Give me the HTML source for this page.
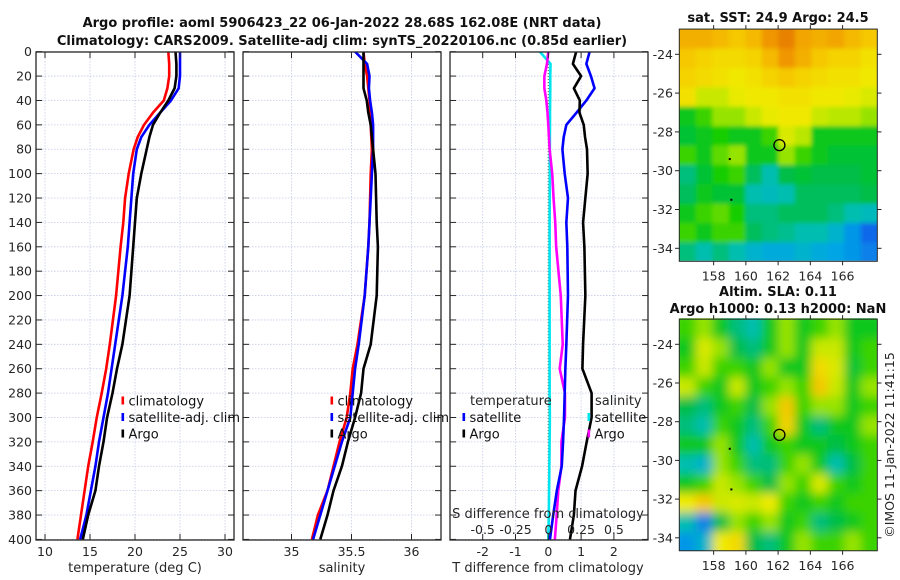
<!DOCTYPE html>
<html><head><meta charset="utf-8"><style>
html,body{margin:0;padding:0;background:#fff;}
svg{display:block;font-family:"DejaVu Sans","Liberation Sans",sans-serif;}
</style></head><body>
<svg id="fig" width="900" height="580" viewBox="0 0 900 580" xmlns="http://www.w3.org/2000/svg">
<defs>
<clipPath id="c1"><rect x="36" y="52" width="198" height="488"/></clipPath>
<clipPath id="c2"><rect x="243" y="52" width="198" height="488"/></clipPath>
<clipPath id="c3"><rect x="450" y="52" width="198" height="488"/></clipPath>
<clipPath id="cm1"><rect x="679.3" y="29" width="198" height="231.7"/></clipPath>
<clipPath id="cm2"><rect x="679.3" y="318.3" width="198" height="232.4"/></clipPath>
<filter id="bl" x="-5%" y="-5%" width="110%" height="110%"><feGaussianBlur stdDeviation="5"/></filter>
<filter id="bl1" x="-5%" y="-5%" width="110%" height="110%"><feGaussianBlur stdDeviation="2"/></filter>
</defs>
<text x="342" y="27" text-anchor="middle" font-weight="bold" font-size="13" fill="#111">Argo profile: aoml 5906423_22 06-Jan-2022 28.68S 162.08E (NRT data)</text>
<text x="342" y="45" text-anchor="middle" font-weight="bold" font-size="13" fill="#111">Climatology: CARS2009. Satellite-adj clim: synTS_20220106.nc (0.85d earlier)</text>
<text x="778" y="22" text-anchor="middle" font-weight="bold" font-size="13" fill="#111">sat. SST: 24.9 Argo: 24.5</text>
<text x="778" y="296" text-anchor="middle" font-weight="bold" font-size="13" fill="#111">Altim. SLA: 0.11</text>
<text x="778" y="313" text-anchor="middle" font-weight="bold" font-size="13" fill="#111">Argo h1000: 0.13 h2000: NaN</text>
<text transform="translate(894,445) rotate(-90)" text-anchor="middle" font-size="12.5" fill="#262626">©IMOS 11-Jan-2022 11:41:15</text>
<g id="layer"></g>
</svg>
<script>
// ---- data ----
const depths = [0,10,20,30,40,50,60,70,80,100,120,140,160,200,240,260,280,300,320,340,360,380,400];
const tempClim = [23.7,23.8,23.8,23.6,23.2,22.0,21.0,20.3,19.85,19.3,18.9,18.7,18.4,17.9,17.2,16.8,16.3,15.75,15.3,14.8,14.4,14.0,13.6];
const tempSat  = [25.0,25.0,25.0,24.85,24.0,22.8,21.6,20.7,20.2,19.8,19.6,19.4,19.2,18.6,17.8,17.4,17.0,16.5,16.0,15.6,15.1,14.6,13.9];
const tempArgo = [24.5,24.6,24.6,24.4,23.7,22.8,22.0,21.6,21.3,20.7,20.2,20.0,19.8,19.4,18.6,18.0,17.5,16.9,16.5,16.0,15.6,14.8,14.2];
const salClim = [35.60,35.61,35.63,35.64,35.65,35.655,35.66,35.665,35.67,35.66,35.655,35.65,35.64,35.61,35.55,35.51,35.49,35.46,35.40,35.35,35.30,35.22,35.17];
const salSat  = [35.53,35.63,35.65,35.645,35.655,35.67,35.68,35.68,35.68,35.67,35.66,35.65,35.64,35.61,35.56,35.53,35.51,35.49,35.42,35.36,35.30,35.24,35.18];
const salArgo = [35.60,35.60,35.60,35.60,35.627,35.64,35.66,35.67,35.68,35.70,35.705,35.71,35.72,35.71,35.66,35.60,35.58,35.53,35.47,35.42,35.35,35.30,35.24];
const dTSat  = [1.26,1.16,1.3,1.41,1.16,0.86,0.55,0.47,0.43,0.5,0.6,0.55,0.58,0.6,0.55,0.52,0.5,0.48,0.45,0.41,0.26,0.15,0.05];
const dTArgo = [0.85,0.75,1.0,0.78,0.96,0.95,1.08,1.12,1.18,1.2,1.13,1.06,1.1,1.13,1.06,1.04,1.32,1.32,1.17,1.03,0.83,0.78,0.66];
const dSSat  = [-0.065,0.017,0.015,0.015,0.014,0.013,0.013,0.012,0.012,0.012,0.011,0.01,0.01,0.01,0.01,0.01,0.01,0.012,0.01,0.008,0.006,0.004,0.0];
const dSArgo = [0,-0.01,-0.03,-0.03,-0.015,-0.006,0,0.005,0.01,0.03,0.04,0.053,0.06,0.095,0.11,0.087,0.127,0.127,0.10,0.10,0.076,0.064,0.05];
const depthTicks = [0,20,40,60,80,100,120,140,160,180,200,220,240,260,280,300,320,340,360,380,400];
const tempTicks = [10,15,20,25,30];
const salTicks = [35,35.5,36];
const salTickLabels = ["35","35.5","36"];
const dTTicks = [-2,-1,0,1,2];
const dSTicks = [-0.5,-0.25,0,0.25,0.5];
const dSTickLabels = ["-0.5","-0.25","0","0.25","0.5"];
const lonTicks = [158,160,162,164,166];
const latTicks = [-24,-26,-28,-30,-32,-34];
const argoLon = 162.08, argoLat = -28.68;
const sstGrid = [
[0.8,0.8,0.78,0.75,0.78,0.85,0.88,0.82,0.8,0.82,0.78,0.75],
[0.75,0.72,0.7,0.7,0.72,0.78,0.85,0.8,0.75,0.72,0.72,0.68],
[0.72,0.7,0.68,0.66,0.68,0.72,0.75,0.72,0.7,0.68,0.68,0.66],
[0.68,0.6,0.6,0.64,0.66,0.66,0.68,0.68,0.66,0.66,0.64,0.62],
[0.45,0.5,0.55,0.55,0.6,0.64,0.66,0.66,0.6,0.58,0.58,0.55],
[0.42,0.45,0.48,0.45,0.45,0.5,0.62,0.58,0.45,0.45,0.45,0.45],
[0.5,0.45,0.52,0.55,0.45,0.45,0.55,0.5,0.45,0.42,0.42,0.42],
[0.35,0.42,0.48,0.5,0.38,0.3,0.4,0.42,0.4,0.4,0.4,0.42],
[0.38,0.45,0.42,0.42,0.3,0.28,0.3,0.38,0.38,0.38,0.38,0.4],
[0.45,0.5,0.52,0.48,0.35,0.35,0.38,0.38,0.38,0.35,0.3,0.28],
[0.5,0.45,0.5,0.5,0.38,0.35,0.33,0.3,0.3,0.25,0.18,0.12],
[0.35,0.3,0.35,0.3,0.25,0.22,0.22,0.25,0.22,0.2,0.18,0.15]];
const slaGrid = [
[0.5,0.55,0.45,0.35,0.3,0.45,0.55,0.45,0.5,0.55,0.45,0.45],
[0.45,0.62,0.55,0.4,0.35,0.45,0.55,0.45,0.6,0.6,0.45,0.5],
[0.5,0.6,0.5,0.5,0.45,0.55,0.45,0.45,0.7,0.62,0.42,0.5],
[0.6,0.5,0.45,0.6,0.45,0.5,0.55,0.5,0.75,0.6,0.45,0.55],
[0.4,0.35,0.45,0.5,0.4,0.55,0.75,0.5,0.55,0.55,0.45,0.5],
[0.35,0.3,0.5,0.45,0.35,0.5,0.72,0.45,0.35,0.45,0.45,0.55],
[0.45,0.45,0.55,0.45,0.3,0.45,0.5,0.45,0.45,0.4,0.45,0.5],
[0.3,0.25,0.55,0.5,0.35,0.35,0.5,0.55,0.45,0.3,0.4,0.5],
[0.45,0.5,0.6,0.55,0.5,0.4,0.55,0.5,0.62,0.5,0.45,0.5],
[0.65,0.75,0.6,0.62,0.6,0.65,0.5,0.45,0.5,0.45,0.5,0.5],
[0.3,0.15,0.4,0.55,0.5,0.55,0.45,0.5,0.35,0.4,0.45,0.5],
[0.18,0.25,0.65,0.7,0.4,0.35,0.45,0.55,0.5,0.5,0.55,0.5]];

// ---- helpers ----
const NS = "http://www.w3.org/2000/svg";
const layer = document.getElementById("layer");
function mk(tag, attrs, parent){ const e=document.createElementNS(NS,tag); for(const k in attrs) e.setAttribute(k,attrs[k]); (parent||layer).appendChild(e); return e; }
const Y0=51.7, YS=1.2193;
const yD = d => Y0 + d*YS;
const xT = t => 36 + (t-9)*9;
const xS = s => 351.5 + (s-35.5)*120;
const xdT = v => 548.3 + v*32.8;
const xdS = v => 548.3 + v*131.2;
const lonX = lon => 679.3 + (lon-155.87)*16.12;
const latY1 = lat => 54.3 + (-24-lat)*19.4;
const latY2 = lat => 344.3 + (-24-lat)*19.35;
const TICKC = "#262626";

function panelFrame(x0,name){
  const g=mk("g",{});
  
  
  mk("rect",{x:x0,y:52,width:198,height:488,fill:"none",stroke:TICKC,"stroke-width":1.3},g);
  depthTicks.forEach(d=>{
    const y=yD(d);
    const t1=mk("line",{x1:x0,x2:x0+6,y1:y,y2:y,stroke:TICKC},g);
    const t2=mk("line",{x1:x0+198,x2:x0+192,y1:y,y2:y,stroke:TICKC},g);
  });
}
function hgrid(x0){
  depthTicks.forEach(d=>{ const y=yD(d);
    const l=mk("line",{x1:x0,x2:x0+198,y1:y,y2:y,stroke:"#c5cbe6","stroke-width":0.8,"stroke-dasharray":"1.5 1.5"});
    
    
  });
}
function vgrid(x){ const l=mk("line",{x1:x,x2:x,y1:52,y2:540,stroke:"#c5cbe6","stroke-width":0.8,"stroke-dasharray":"1.5 1.5"});
  
  
}
function xtick(x,label,y,name){
  mk("line",{x1:x,x2:x,y1:540,y2:534,stroke:TICKC});
  mk("line",{x1:x,x2:x,y1:52,y2:58,stroke:TICKC});
  const t=mk("text",{x:x,y:y||556,"text-anchor":"middle","font-size":12.5,fill:TICKC}); t.textContent=label;
  
  
}
function series(xs, xf, color, clip, name, w){
  let d=""; depths.forEach((dep,i)=>{ d+=(i?"L":"M")+xf(xs[i]).toFixed(2)+","+yD(dep).toFixed(2); });
  const p=mk("path",{d:d,fill:"none",stroke:color,"stroke-width":w||2.6,"stroke-linejoin":"round","clip-path":"url(#"+clip+")"});
  
  
}
function legendEntry(x,y,color,label,name){
  const r=mk("rect",{x:x,y:y-4.5,width:2.6,height:8,fill:color});
  const t=mk("text",{x:x+7,y:y+4.5,"font-size":13,fill:"#111"}); t.textContent=label;
  
  
}
function text(x,y,s,anchor,size,name){
  const t=mk("text",{x:x,y:y,"text-anchor":anchor||"middle","font-size":size||13,fill:TICKC}); t.textContent=s;
  
  
  return t;
}

// ---- panel 1: temperature ----
hgrid(36); tempTicks.forEach(v=>vgrid(xT(v)));
series(tempClim,xT,"#ff0000","c1","temp-climatology-line");
series(tempSat,xT,"#0000ff","c1","temp-satellite-line");
series(tempArgo,xT,"#000000","c1","temp-argo-line");
panelFrame(36,"temperature-panel");
tempTicks.forEach(v=>xtick(xT(v),String(v),556,'temp-tick-label'));
depthTicks.forEach(d=>text(32,yD(d)+4.5,String(d),"end",12.5,'depth-tick-label'));
text(135,572,"temperature (deg C)","middle",13,'temperature-axis-title');
legendEntry(121.5,401,"#ff0000","climatology",'legend-temp-climatology');
legendEntry(121.5,417.5,"#0000ff","satellite-adj. clim",'legend-temp-satellite');
legendEntry(121.5,434,"#000000","Argo",'legend-temp-argo');

// ---- panel 2: salinity ----
hgrid(243); salTicks.forEach(v=>vgrid(xS(v)));
series(salClim,xS,"#ff0000","c2","sal-climatology-line");
series(salSat,xS,"#0000ff","c2","sal-satellite-line");
series(salArgo,xS,"#000000","c2","sal-argo-line");
panelFrame(243,"salinity-panel");
salTicks.forEach((v,i)=>xtick(xS(v),salTickLabels[i],556,'sal-tick-label'));
text(342,572,"salinity","middle",13,'salinity-axis-title');
legendEntry(330.5,401,"#ff0000","climatology",'legend-sal-climatology');
legendEntry(330.5,417.5,"#0000ff","satellite-adj. clim",'legend-sal-satellite');
legendEntry(330.5,434,"#000000","Argo",'legend-sal-argo');

// ---- panel 3: differences ----
hgrid(450); dTTicks.forEach(v=>vgrid(xdT(v)));
const zl=mk("line",{x1:xdT(0),x2:xdT(0),y1:52,y2:540,stroke:"#5a7a5a","stroke-width":1.2,"stroke-dasharray":"1 2"});


series(dSSat,xdS,"#00e5ee","c3","sal-diff-satellite-line");
series(dSArgo,xdS,"#ff00ff","c3","sal-diff-argo-line");
series(dTSat,xdT,"#0000ff","c3","temp-diff-satellite-line");
series(dTArgo,xdT,"#000000","c3","temp-diff-argo-line");
panelFrame(450,"difference-panel");
dTTicks.forEach(v=>xtick(xdT(v),String(v),556,'tdiff-tick-label'));
text(548,572,"T difference from climatology","middle",13,'tdiff-axis-title');
text(548,518,"S difference from climatology","middle",13,'sdiff-axis-title');
dSTicks.forEach((v,i)=>text(xdS(v),534,dSTickLabels[i],"middle",12.5,'sdiff-tick-label'));
text(470,405,"temperature","start",13,'legend-temperature-header');
legendEntry(462.5,417.5,"#0000ff","satellite",'legend-tdiff-satellite');
legendEntry(462.5,434,"#000000","Argo",'legend-tdiff-argo');
text(595,405,"salinity","start",13,'legend-salinity-header');
legendEntry(587.5,417.5,"#00e5ee","satellite",'legend-sdiff-satellite');
legendEntry(587.5,434,"#ff00ff","Argo",'legend-sdiff-argo');

// ---- maps ----
const cstops=[[0.1,[20,90,235]],[0.2,[0,165,230]],[0.3,[0,190,175]],[0.4,[0,190,70]],[0.48,[20,205,0]],[0.56,[170,230,0]],[0.65,[240,235,0]],[0.75,[245,200,0]],[0.85,[240,150,0]],[0.95,[210,80,0]]];
function cmap(v){
  if(v<=cstops[0][0]) return "rgb("+cstops[0][1]+")";
  for(let i=1;i<cstops.length;i++){ if(v<=cstops[i][0]){ const a=cstops[i-1],b=cstops[i],f=(v-a[0])/(b[0]-a[0]);
    return "rgb("+a[1].map((c,k)=>Math.round(c+(b[1][k]-c)*f)).join(",")+")"; } }
  return "rgb("+cstops[cstops.length-1][1]+")";
}
function drawMap(grid, latY, clip, filt, name){
  const g=mk("g",{"clip-path":"url(#"+clip+")"});
  
  
  const inner=mk("g",{filter:"url(#"+filt+")"},g);
  const rows=grid.length, cols=grid[0].length;
  grid.forEach((row,r)=>row.forEach((v,c)=>{
    const lon0=155.87+c*(12.28/cols), lon1=155.87+(c+1)*(12.28/cols);
    const lat0=-22.7-r*(12/rows), lat1=-22.7-(r+1)*(12/rows);
    const x0=lonX(lon0),x1=lonX(lon1),y0=latY(lat0),y1=latY(lat1);
    const ex = (c===0?-8:0), ew=(c===cols-1?8:0), ey=(r===0?-8:0), eh=(r===rows-1?8:0);
    const cell=mk("rect",{x:x0+ex,y:y0+ey,width:x1-x0+0.6-ex+ew,height:y1-y0+0.6-ey+eh,fill:cmap(v)},inner);
    
    
  }));
  const yTop=latY(-22.7), yBot=latY(-34.67);
  mk("rect",{x:679.3,y:yTop,width:198,height:yBot-yTop,fill:"none",stroke:TICKC,"stroke-width":1});
  latTicks.forEach(l=>{ const y=latY(l);
    mk("line",{x1:679.3,x2:675,y1:y,y2:y,stroke:TICKC});
    mk("line",{x1:877.3,x2:881.5,y1:y,y2:y,stroke:TICKC});
    text(673,y+4.5,String(l),"end",12.5,'lat-tick-label');
  });
  lonTicks.forEach(l=>{ const x=lonX(l);
    mk("line",{x1:x,x2:x,y1:yBot,y2:yBot+4,stroke:TICKC});
    mk("line",{x1:x,x2:x,y1:yTop,y2:yTop-4,stroke:TICKC});
    text(x,yBot+19,String(l),"middle",12.5,'lon-tick-label');
  });
  const c=mk("circle",{cx:lonX(argoLon),cy:latY(argoLat),r:5.5,fill:"none",stroke:"#000","stroke-width":1.3});
  
  
  mk("rect",{x:lonX(159)-1,y:latY(-29.4)-1,width:2,height:2,fill:"#000"});
  mk("rect",{x:lonX(159.1)-1,y:latY(-31.5)-1,width:2,height:2,fill:"#000"});
}
drawMap(sstGrid, latY1, "cm1", "bl1", "sst-map");
drawMap(slaGrid, latY2, "cm2", "bl", "sla-map");
</script>
</body></html>
